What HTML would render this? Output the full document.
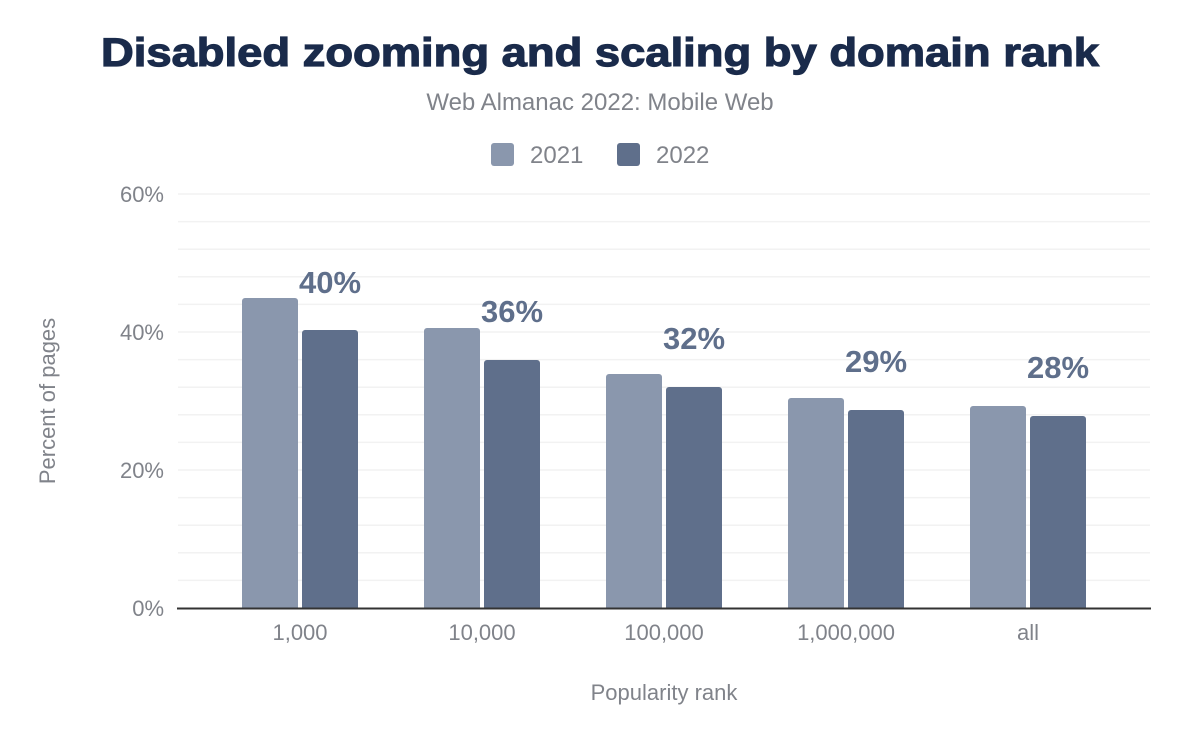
<!DOCTYPE html>
<html><head><meta charset="utf-8"><style>
html,body{margin:0;padding:0;background:#fff;}
svg{display:block;font-family:"Liberation Sans",Arial,sans-serif;}
</style></head><body>
<svg width="1200" height="742" viewBox="0 0 1200 742" xmlns="http://www.w3.org/2000/svg">
<text x="600" y="66" text-anchor="middle" font-size="40" font-weight="900" fill="#1a2b4b" textLength="998" lengthAdjust="spacingAndGlyphs" stroke="#1a2b4b" stroke-width="1.2">Disabled zooming and scaling by domain rank</text>
<text x="600" y="110" text-anchor="middle" font-size="24" fill="#80838a">Web Almanac 2022: Mobile Web</text>
<rect x="491" y="143" width="23" height="23" rx="3" fill="#8a97ad"/>
<text x="530" y="163" font-size="24" fill="#80838a">2021</text>
<rect x="617" y="143" width="23" height="23" rx="3" fill="#5f6f8b"/>
<text x="656" y="163" font-size="24" fill="#80838a">2022</text>
<g stroke="#f2f2f2" stroke-width="1.5">
<line x1="178" x2="1150" y1="194" y2="194"/>
<line x1="178" x2="1150" y1="221.6" y2="221.6"/>
<line x1="178" x2="1150" y1="249.2" y2="249.2"/>
<line x1="178" x2="1150" y1="276.8" y2="276.8"/>
<line x1="178" x2="1150" y1="304.4" y2="304.4"/>
<line x1="178" x2="1150" y1="332" y2="332"/>
<line x1="178" x2="1150" y1="359.6" y2="359.6"/>
<line x1="178" x2="1150" y1="387.2" y2="387.2"/>
<line x1="178" x2="1150" y1="414.8" y2="414.8"/>
<line x1="178" x2="1150" y1="442.4" y2="442.4"/>
<line x1="178" x2="1150" y1="470" y2="470"/>
<line x1="178" x2="1150" y1="497.6" y2="497.6"/>
<line x1="178" x2="1150" y1="525.2" y2="525.2"/>
<line x1="178" x2="1150" y1="552.8" y2="552.8"/>
<line x1="178" x2="1150" y1="580.4" y2="580.4"/>
</g>
<g font-size="22" fill="#80838a" text-anchor="end">
<text x="164" y="202">60%</text>
<text x="164" y="340">40%</text>
<text x="164" y="478">20%</text>
<text x="164" y="616">0%</text>
</g>
<g fill="#8a97ad">
<path d="M242 609V301a3 3 0 0 1 3-3h50a3 3 0 0 1 3 3V609z"/>
<path d="M424 609V331a3 3 0 0 1 3-3h50a3 3 0 0 1 3 3V609z"/>
<path d="M606 609V377a3 3 0 0 1 3-3h50a3 3 0 0 1 3 3V609z"/>
<path d="M788 609V401a3 3 0 0 1 3-3h50a3 3 0 0 1 3 3V609z"/>
<path d="M970 609V409a3 3 0 0 1 3-3h50a3 3 0 0 1 3 3V609z"/>
</g>
<g fill="#5f6f8b">
<path d="M302 609V333a3 3 0 0 1 3-3h50a3 3 0 0 1 3 3V609z"/>
<path d="M484 609V363a3 3 0 0 1 3-3h50a3 3 0 0 1 3 3V609z"/>
<path d="M666 609V390a3 3 0 0 1 3-3h50a3 3 0 0 1 3 3V609z"/>
<path d="M848 609V413a3 3 0 0 1 3-3h50a3 3 0 0 1 3 3V609z"/>
<path d="M1030 609V419a3 3 0 0 1 3-3h50a3 3 0 0 1 3 3V609z"/>
</g>
<line x1="177" x2="1151" y1="608.5" y2="608.5" stroke="#333" stroke-width="2"/>
<g font-size="31" font-weight="bold" fill="#5f6f8b" text-anchor="middle">
<text x="330" y="293">40%</text>
<text x="512" y="322">36%</text>
<text x="694" y="349">32%</text>
<text x="876" y="372">29%</text>
<text x="1058" y="378">28%</text>
</g>
<g font-size="22" fill="#80838a" text-anchor="middle">
<text x="300" y="640">1,000</text>
<text x="482" y="640">10,000</text>
<text x="664" y="640">100,000</text>
<text x="846" y="640">1,000,000</text>
<text x="1028" y="640">all</text>
<text x="664" y="700">Popularity rank</text>
<text transform="translate(55 401) rotate(-90)">Percent of pages</text>
</g>
</svg>
</body></html>
